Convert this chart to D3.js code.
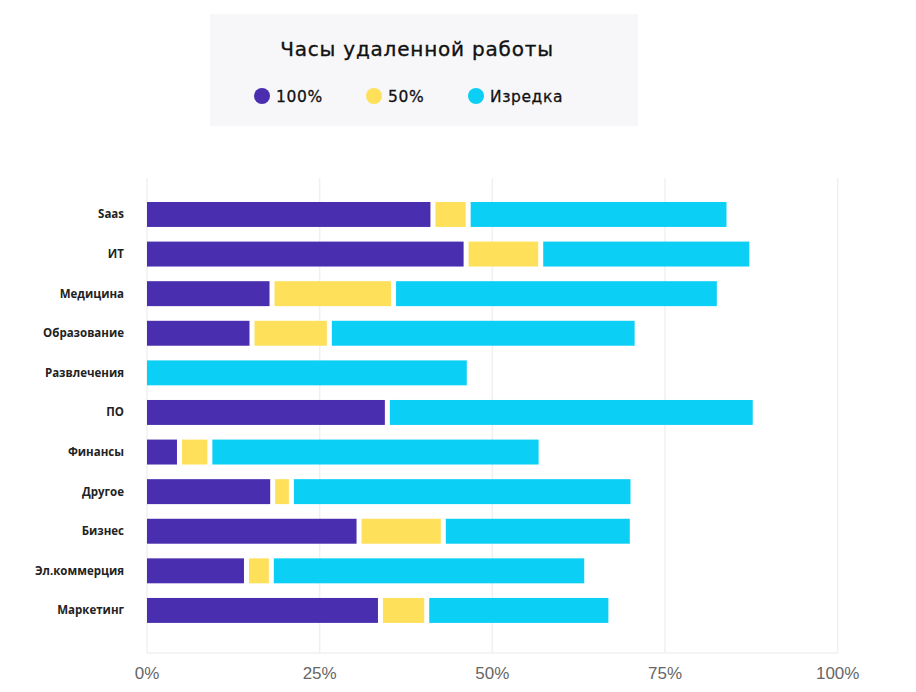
<!DOCTYPE html>
<html>
<head>
<meta charset="utf-8">
<script src="https://cdn.jsdelivr.net/npm/d3@7"></script>
<style>
  html, body { margin: 0; padding: 0; background: #fff; }
  svg { display: block; }
</style>
</head>
<body>
<svg id="chart" width="916" height="692"></svg>
<script>
const categories = ["Saas", "ИТ", "Медицина", "Образование", "Развлечения", "ПО", "Финансы", "Другое", "Бизнес", "Эл.коммерция", "Маркетинг"];
const full = [41.4, 46.2, 18.1, 15.2, 0, 34.8, 4.7, 18.2, 30.7, 14.4, 33.8];
const half = [5.1, 10.8, 17.6, 11.2, 0, 0, 4.4, 2.7, 12.2, 3.6, 6.7];
const rare = [37.4, 30.2, 46.8, 44.2, 46.3, 52.9, 47.6, 49.1, 27.0, 45.3, 26.3];
const seriesNames = ["100%", "50%", "Изредка"];
const seriesColors = ["#4a2eb0", "#ffe05a", "#0ccff6"];
const xTicks = [0, 25, 50, 75, 100];
const title = "Часы удаленной работы";

const rows = categories.map((c, i) => ({ cat: c, vals: [full[i], half[i], rare[i]] }));

const svg = d3.select("#chart");
const x = d3.scaleLinear().domain([0, 100]).range([147, 837.7]);
const y = d3.scaleBand().domain(categories).range([182.2, 642.7]).paddingInner(0.37).paddingOuter(0.5);

// legend box
const lg = svg.append("g");
lg.append("rect").attr("x", 210).attr("y", 14).attr("width", 428).attr("height", 112).attr("fill", "#f7f7f9");
lg.append("text").attr("x", 417).attr("y", 56).attr("text-anchor", "middle")
  .attr("font-family", "DejaVu Sans, sans-serif").attr("font-size", 20)
  .attr("letter-spacing", 0.8)
  .attr("fill", "#111").attr("stroke", "#111").attr("stroke-width", 0.35).text(title);
const legendX = [262, 374, 476];
seriesNames.forEach((n, i) => {
  lg.append("circle").attr("cx", legendX[i]).attr("cy", 96).attr("r", 8).attr("fill", seriesColors[i]);
  lg.append("text").attr("x", legendX[i] + 14).attr("y", 101.5)
    .attr("font-family", "DejaVu Sans, sans-serif").attr("font-size", 15.5)
    .attr("letter-spacing", 0.6)
    .attr("fill", "#111").attr("stroke", "#111").attr("stroke-width", 0.3).text(n);
});

// grid
const grid = svg.append("g");
grid.selectAll("line.v").data(xTicks).join("line").attr("class", "v")
  .attr("x1", d => x(d)).attr("x2", d => x(d)).attr("y1", 178).attr("y2", 653)
  .attr("stroke", "#f0f0f2").attr("stroke-width", 1.5);
grid.append("line").attr("x1", x(0)).attr("x2", x(100)).attr("y1", 653).attr("y2", 653)
  .attr("stroke", "#f0f0f2").attr("stroke-width", 1.5);

// x tick labels
svg.append("g").selectAll("text").data(xTicks).join("text")
  .attr("x", d => x(d)).attr("y", 679).attr("text-anchor", "middle")
  .attr("font-family", "Liberation Sans, Arial, sans-serif").attr("font-size", 17)
  .attr("fill", "#666").text(d => d + "%");

// y labels
svg.append("g").selectAll("text").data(categories).join("text")
  .attr("x", 124).attr("y", d => y(d) + y.bandwidth() / 2 + 4).attr("text-anchor", "end")
  .attr("font-family", "Open Sans, Noto Sans, sans-serif").attr("font-size", 11.5).attr("font-weight", 700)
  .attr("fill", "#222").text(d => d);

// bars
const gap = 2.5;
const barG = svg.append("g");
rows.forEach(r => {
  let cum = 0;
  const nz = r.vals.map((v, i) => v > 0 ? i : -1).filter(i => i >= 0);
  const firstNz = nz[0], lastNz = nz[nz.length - 1];
  r.vals.forEach((v, i) => {
    const s = cum; cum += v;
    if (v <= 0) return;
    const x0 = x(s) + (i === firstNz ? 0 : gap);
    const x1 = x(cum) - (i === lastNz ? 0 : gap);
    barG.append("rect").attr("x", x0).attr("y", y(r.cat))
      .attr("width", Math.max(0, x1 - x0)).attr("height", y.bandwidth())
      .attr("fill", seriesColors[i]);
  });
});
</script>
</body>
</html>
